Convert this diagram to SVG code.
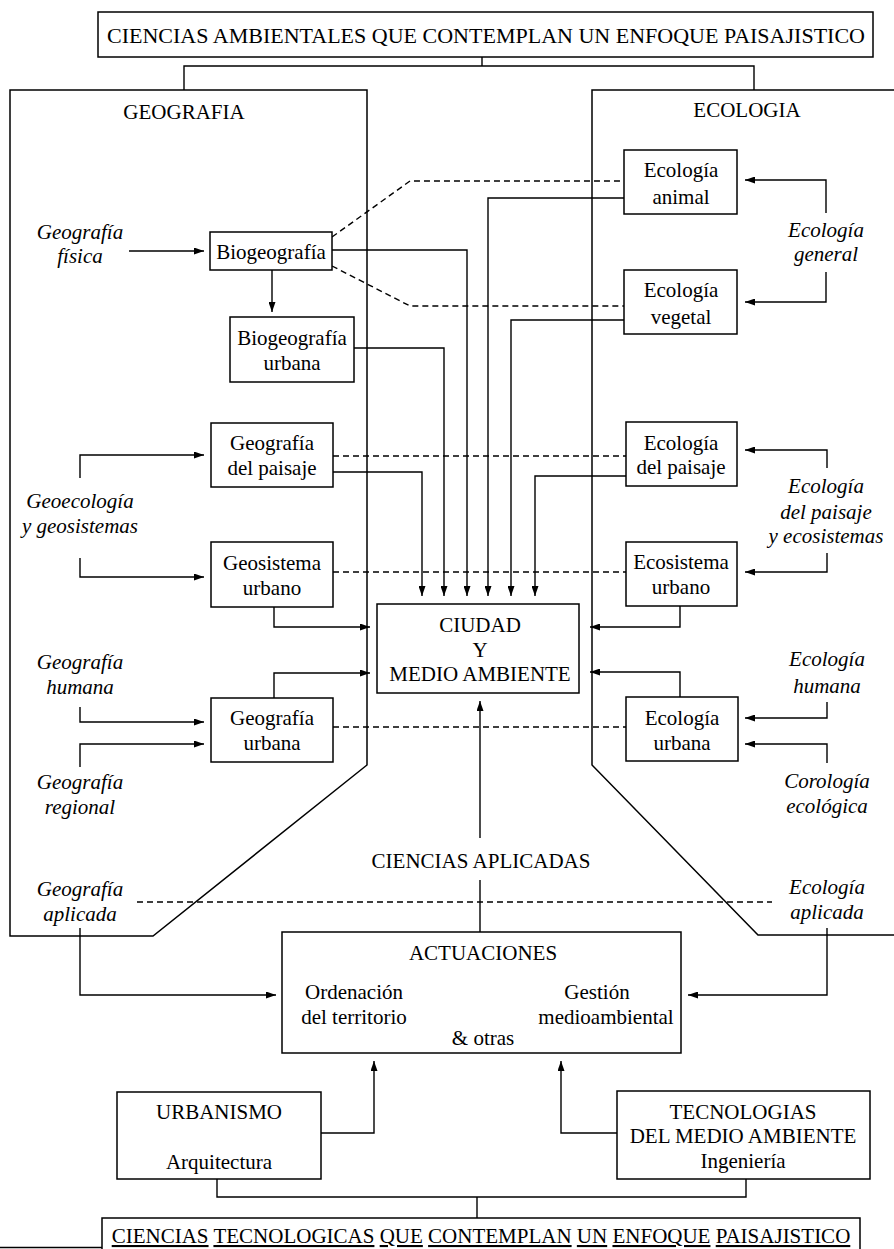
<svg xmlns="http://www.w3.org/2000/svg" width="894" height="1249" viewBox="0 0 894 1249">
<style>
.box{fill:#fff;stroke:#000;stroke-width:1.5}
.pn{fill:none;stroke:#000;stroke-width:1.5}
.ln{fill:none;stroke:#000;stroke-width:1.4}
.dash{fill:none;stroke:#000;stroke-width:1.4;stroke-dasharray:6 4}
.t{font-family:"Liberation Serif","Times New Roman",serif;font-size:21px;text-anchor:middle;fill:#000}
.i{font-style:italic}
.u{text-decoration:underline}
</style>
<defs>
<marker id="ah" markerUnits="userSpaceOnUse" markerWidth="10" markerHeight="7" refX="10" refY="3.5" orient="auto">
<path d="M0,0 L10,3.5 L0,7 z" fill="#000"/>
</marker>
</defs>
<rect width="894" height="1249" fill="#fff"/>

<g id="panel-geografia">
<path class="pn" d="M10,90 H367 V765 L153,936 H10 Z"/>
<text class="t" x="184" y="119">GEOGRAFIA</text>
</g>
<g id="panel-ecologia">
<path class="pn" d="M894,90 H592 V765 L758,935 H894"/>
<text class="t" x="747" y="117">ECOLOGIA</text>
</g>

<g id="connectors">
<path class="ln" d="M482,57 V66 M184,90 V66 H754 V90"/>
<path class="ln" d="M217,1179 V1197 H746 V1179 M477,1197 V1218"/>
<path class="dash" d="M332,237 L410,181 H624"/>
<path class="dash" d="M332,266 L410,306 H624"/>
<path class="dash" d="M333,456 H626"/>
<path class="dash" d="M333,572 H626"/>
<path class="dash" d="M333,727 H626"/>
<path class="dash" d="M137,902 H772"/>
<path class="ln" marker-end="url(#ah)" d="M333,472 H422 V596"/>
<path class="ln" marker-end="url(#ah)" d="M354,348 H444 V596"/>
<path class="ln" marker-end="url(#ah)" d="M332,250 H467 V596"/>
<path class="ln" marker-end="url(#ah)" d="M624,198 H488 V596"/>
<path class="ln" marker-end="url(#ah)" d="M624,320 H511 V596"/>
<path class="ln" marker-end="url(#ah)" d="M626,476 H535 V596"/>
<path class="ln" marker-end="url(#ah)" d="M274,607 V627 H370"/>
<path class="ln" marker-end="url(#ah)" d="M274,698 V673 H370"/>
<path class="ln" marker-end="url(#ah)" d="M680,606 V627 H590"/>
<path class="ln" marker-end="url(#ah)" d="M680,697 V672 H590"/>
<path class="ln" marker-end="url(#ah)" d="M480,838 V701"/>
<path class="ln" d="M480,932 V880"/>
<path class="ln" marker-end="url(#ah)" d="M129,251 H204"/>
<path class="ln" marker-end="url(#ah)" d="M272,270 V312"/>
<path class="ln" marker-end="url(#ah)" d="M80,478 V455 H204"/>
<path class="ln" marker-end="url(#ah)" d="M80,558 V577 H204"/>
<path class="ln" marker-end="url(#ah)" d="M80,707 V722 H204"/>
<path class="ln" marker-end="url(#ah)" d="M80,767 V744 H204"/>
<path class="ln" marker-end="url(#ah)" d="M80,928 V995 H276"/>
<path class="ln" marker-end="url(#ah)" d="M826,213 V180 H745"/>
<path class="ln" marker-end="url(#ah)" d="M826,272 V302 H745"/>
<path class="ln" marker-end="url(#ah)" d="M827,468 V450 H745"/>
<path class="ln" marker-end="url(#ah)" d="M827,553 V572 H745"/>
<path class="ln" marker-end="url(#ah)" d="M827,702 V718 H745"/>
<path class="ln" marker-end="url(#ah)" d="M827,763 V744 H745"/>
<path class="ln" marker-end="url(#ah)" d="M827,928 V995 H688"/>
<path class="ln" marker-end="url(#ah)" d="M321,1133 H374 V1061"/>
<path class="ln" marker-end="url(#ah)" d="M617,1133 H561 V1061"/>
<path class="ln" d="M0,1247.5 H102"/>
</g>

<g id="top">
<rect class="box" x="98" y="12" width="775" height="45"/>
<text class="t" x="486" y="43" font-size="22" textLength="758" lengthAdjust="spacingAndGlyphs">CIENCIAS AMBIENTALES QUE CONTEMPLAN UN ENFOQUE PAISAJISTICO</text>
</g>

<g id="biogeografia">
<rect class="box" x="210" y="232" width="122" height="38"/>
<text class="t" x="271" y="259">Biogeografía</text>
</g>
<g id="biogeografia-urbana">
<rect class="box" x="230" y="317" width="124" height="65"/>
<text class="t" x="292" y="345">Biogeografía</text>
<text class="t" x="292" y="370">urbana</text>
</g>
<g id="geografia-paisaje">
<rect class="box" x="211" y="423" width="122" height="64"/>
<text class="t" x="272" y="450">Geografía</text>
<text class="t" x="272" y="475">del paisaje</text>
</g>
<g id="geosistema-urbano">
<rect class="box" x="211" y="542" width="122" height="65"/>
<text class="t" x="272" y="570">Geosistema</text>
<text class="t" x="272" y="595">urbano</text>
</g>
<g id="geografia-urbana">
<rect class="box" x="211" y="698" width="122" height="64"/>
<text class="t" x="272" y="725">Geografía</text>
<text class="t" x="272" y="750">urbana</text>
</g>

<g id="ecologia-animal">
<rect class="box" x="624" y="150" width="113" height="64"/>
<text class="t" x="681" y="177">Ecología</text>
<text class="t" x="681" y="204">animal</text>
</g>
<g id="ecologia-vegetal">
<rect class="box" x="624" y="270" width="113" height="64"/>
<text class="t" x="681" y="297">Ecología</text>
<text class="t" x="681" y="324">vegetal</text>
</g>
<g id="ecologia-paisaje">
<rect class="box" x="626" y="422" width="111" height="64"/>
<text class="t" x="681" y="450">Ecología</text>
<text class="t" x="681" y="474">del paisaje</text>
</g>
<g id="ecosistema-urbano">
<rect class="box" x="626" y="542" width="111" height="64"/>
<text class="t" x="681" y="569">Ecosistema</text>
<text class="t" x="681" y="594">urbano</text>
</g>
<g id="ecologia-urbana">
<rect class="box" x="626" y="697" width="112" height="64"/>
<text class="t" x="682" y="725">Ecología</text>
<text class="t" x="682" y="750">urbana</text>
</g>

<g id="ciudad">
<rect class="box" x="377" y="604" width="202" height="89"/>
<text class="t" x="480" y="632" font-size="20">CIUDAD</text>
<text class="t" x="480" y="657" font-size="20">Y</text>
<text class="t" x="480" y="681" font-size="20">MEDIO AMBIENTE</text>
</g>

<g id="labels-left">
<text class="t i" x="80" y="239">Geografía</text>
<text class="t i" x="80" y="263">física</text>
<text class="t i" x="80" y="508">Geoecología</text>
<text class="t i" x="80" y="533">y geosistemas</text>
<text class="t i" x="80" y="669">Geografía</text>
<text class="t i" x="80" y="694">humana</text>
<text class="t i" x="80" y="789">Geografía</text>
<text class="t i" x="80" y="814">regional</text>
<text class="t i" x="80" y="896">Geografía</text>
<text class="t i" x="80" y="921">aplicada</text>
</g>
<g id="labels-right">
<text class="t i" x="826" y="237">Ecología</text>
<text class="t i" x="826" y="261">general</text>
<text class="t i" x="826" y="493">Ecología</text>
<text class="t i" x="826" y="519">del paisaje</text>
<text class="t i" x="826" y="543">y ecosistemas</text>
<text class="t i" x="827" y="666">Ecología</text>
<text class="t i" x="827" y="693">humana</text>
<text class="t i" x="827" y="788">Corología</text>
<text class="t i" x="827" y="813">ecológica</text>
<text class="t i" x="827" y="894">Ecología</text>
<text class="t i" x="827" y="919">aplicada</text>
</g>

<g id="ciencias-aplicadas">
<text class="t" x="481" y="868" font-size="20">CIENCIAS APLICADAS</text>
</g>

<g id="actuaciones">
<rect class="box" x="282" y="932" width="399" height="121"/>
<text class="t" x="483" y="960">ACTUACIONES</text>
<text class="t" x="354" y="999">Ordenación</text>
<text class="t" x="354" y="1024">del territorio</text>
<text class="t" x="597" y="999">Gestión</text>
<text class="t" x="606" y="1024">medioambiental</text>
<text class="t" x="483" y="1045">&amp; otras</text>
</g>

<g id="urbanismo">
<rect class="box" x="117" y="1092" width="204" height="87"/>
<text class="t" x="219" y="1119">URBANISMO</text>
<text class="t" x="219" y="1169">Arquitectura</text>
</g>
<g id="tecnologias">
<rect class="box" x="617" y="1091" width="253" height="88"/>
<text class="t" x="743" y="1119">TECNOLOGIAS</text>
<text class="t" x="743" y="1143">DEL MEDIO AMBIENTE</text>
<text class="t" x="743" y="1168">Ingeniería</text>
</g>

<g id="bottom">
<path class="box" d="M102,1249 V1218 H860 V1249"/>
<text class="t" x="481" y="1243"><tspan class="u">CIENCIAS</tspan> <tspan class="u">TECNOLOGICAS</tspan> <tspan class="u">QUE</tspan> <tspan class="u">CONTEMPLAN</tspan> <tspan class="u">UN</tspan> <tspan class="u">ENFOQUE</tspan> <tspan class="u">PAISAJISTICO</tspan></text>
</g>
</svg>
